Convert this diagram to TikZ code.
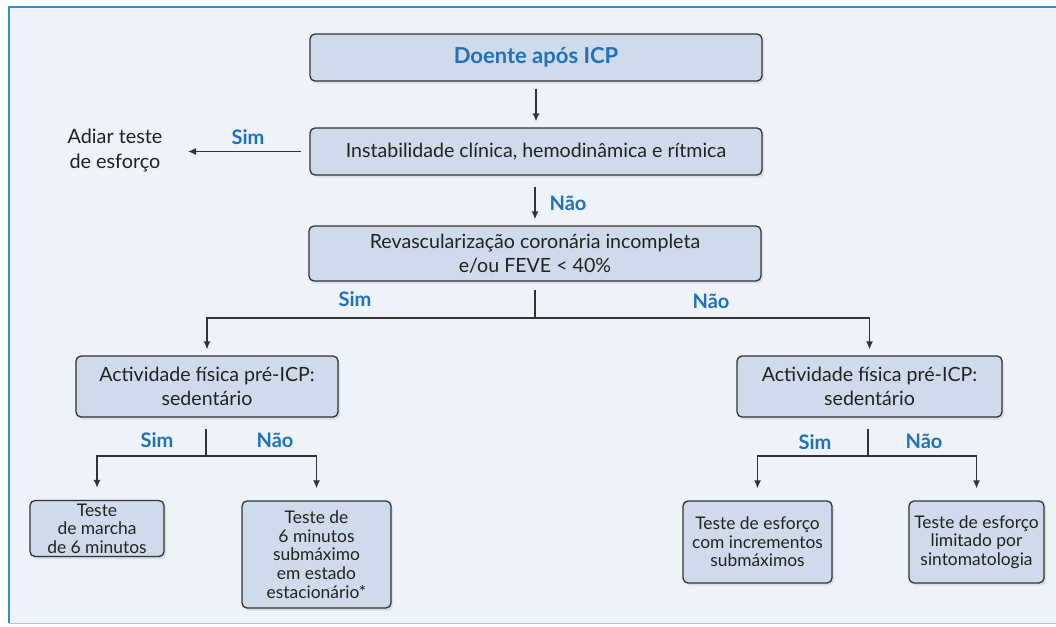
\documentclass[tikz,border=0pt]{standalone}
\usepackage{fontspec}
\setmainfont{Lato}
\usetikzlibrary{arrows.meta,shadows,positioning,calc}
\definecolor{bg}{HTML}{EEF2F9}
\definecolor{boxfill}{HTML}{CFDAEA}
\definecolor{boxdraw}{HTML}{333333}
\definecolor{frameblue}{HTML}{2B8FD0}
\definecolor{lblblue}{HTML}{1F72BA}
\definecolor{txt}{HTML}{222222}
\definecolor{framegray}{HTML}{B8C4D4}
\tikzset{
  flowbox/.style={draw=boxdraw, fill=boxfill, line width=1.3pt, rounded corners=5pt,
    align=center, text=txt, inner sep=0pt,
    font=\fontsize{19.6}{23.5}\selectfont,
    drop shadow={opacity=0.18, shadow xshift=2pt, shadow yshift=-2.5pt}},
  tightbox/.style={flowbox, font=\fontsize{17.4}{18.6}\selectfont},
  lbl/.style={text=lblblue, font=\fontsize{20}{22}\selectfont\bfseries, inner sep=0pt},
  conn/.style={draw=boxdraw, line width=1.3pt},
  arr/.style={conn, -{Latex[length=8pt,width=7pt]}}
}
\begin{document}
\begin{tikzpicture}[x=1pt,y=-1pt]
\useasboundingbox (0,0) rectangle (1056,626);
\fill[white] (0,0) rectangle (1056,626);
\fill[bg] (9,7) rectangle (1056,623);
\draw[framegray, line width=1pt] (9,623) -- (1056,623);
\draw[frameblue, line width=2.5pt] (1056,7) -- (9,7) -- (9,623);

\node[flowbox, minimum width=452pt, minimum height=47pt] (doente) at (536,57.5)
  {\textcolor{lblblue}{\fontsize{22}{24}\selectfont\bfseries Doente após ICP}};
\node[flowbox, minimum width=452pt, minimum height=47pt] (inst) at (536,151.5)
  {Instabilidade clínica, hemodinâmica e rítmica};
\node[text=txt, align=center, font=\fontsize{19.8}{25}\selectfont, inner sep=0pt] (adiar) at (115,150)
  {Adiar teste\\de esforço};
\node[flowbox, minimum width=452pt, minimum height=55pt] (revasc) at (535,253.5)
  {Revascularização coronária incompleta\\e/ou FEVE < 40\%};
\node[flowbox, minimum width=262pt, minimum height=61pt] (actL) at (207,386.5)
  {Actividade física pré-ICP:\\sedentário};
\node[flowbox, minimum width=265pt, minimum height=61pt] (actR) at (869.5,386.5)
  {Actividade física pré-ICP:\\sedentário};
\node[tightbox, minimum width=134pt, minimum height=56pt] (t1) at (97,528.5)
  {Teste\\de marcha\\de 6 minutos};
\node[tightbox, minimum width=149pt, minimum height=107pt] (t2) at (316.5,554.5)
  {Teste de\\6 minutos\\submáximo\\em estado\\estacionário*};
\node[tightbox, minimum width=149pt, minimum height=82pt] (t3) at (757.5,542)
  {Teste de esforço\\com incrementos\\submáximos};
\node[tightbox, minimum width=135pt, minimum height=82pt] (t4) at (976.5,542)
  {Teste de esforço\\limitado por\\sintomatologia};

% connectors
\draw[arr, shorten <=7pt, shorten >=6pt] (doente) -- (inst);
\coordinate (atip) at (inst.west -| 188,0);
\draw[arr, shorten <=8pt] (inst.west) -- (atip);
\node[lbl] (s1) at (248,137) {Sim};
\draw[arr, shorten <=11pt, shorten >=6pt] (inst.south -| revasc.north) -- (revasc.north);
\node[lbl] (n1) at (568,203) {Não};

\coordinate (j1) at (535,318);
\draw[conn, shorten <=8pt] (revasc.south) -- (j1);
\draw[arr, shorten >=6pt] (j1) -| (actL.north);
\draw[arr, shorten >=6pt] (j1) -| (actR.north);
\node[lbl] (s2) at (355,299) {Sim};
\node[lbl] (n2) at (711,301) {Não};

\coordinate (j2) at (206,456);
\draw[conn, shorten <=11pt] (actL.south -| j2) -- (j2);
\draw[arr, shorten >=12pt] (j2) -| (t1.north);
\draw[arr, shorten >=12pt] (j2) -| (t2.north);
\node[lbl] (s3) at (157,440) {Sim};
\node[lbl] (n3) at (275,440) {Não};

\coordinate (j3) at (868,456);
\draw[conn, shorten <=11pt] (actR.south -| j3) -- (j3);
\draw[arr, shorten >=12pt] (j3) -| (t3.north);
\draw[arr, shorten >=12pt] (j3) -| (t4.north);
\node[lbl] (s4) at (815,442) {Sim};
\node[lbl] (n4) at (924,441) {Não};
\end{tikzpicture}
\end{document}
